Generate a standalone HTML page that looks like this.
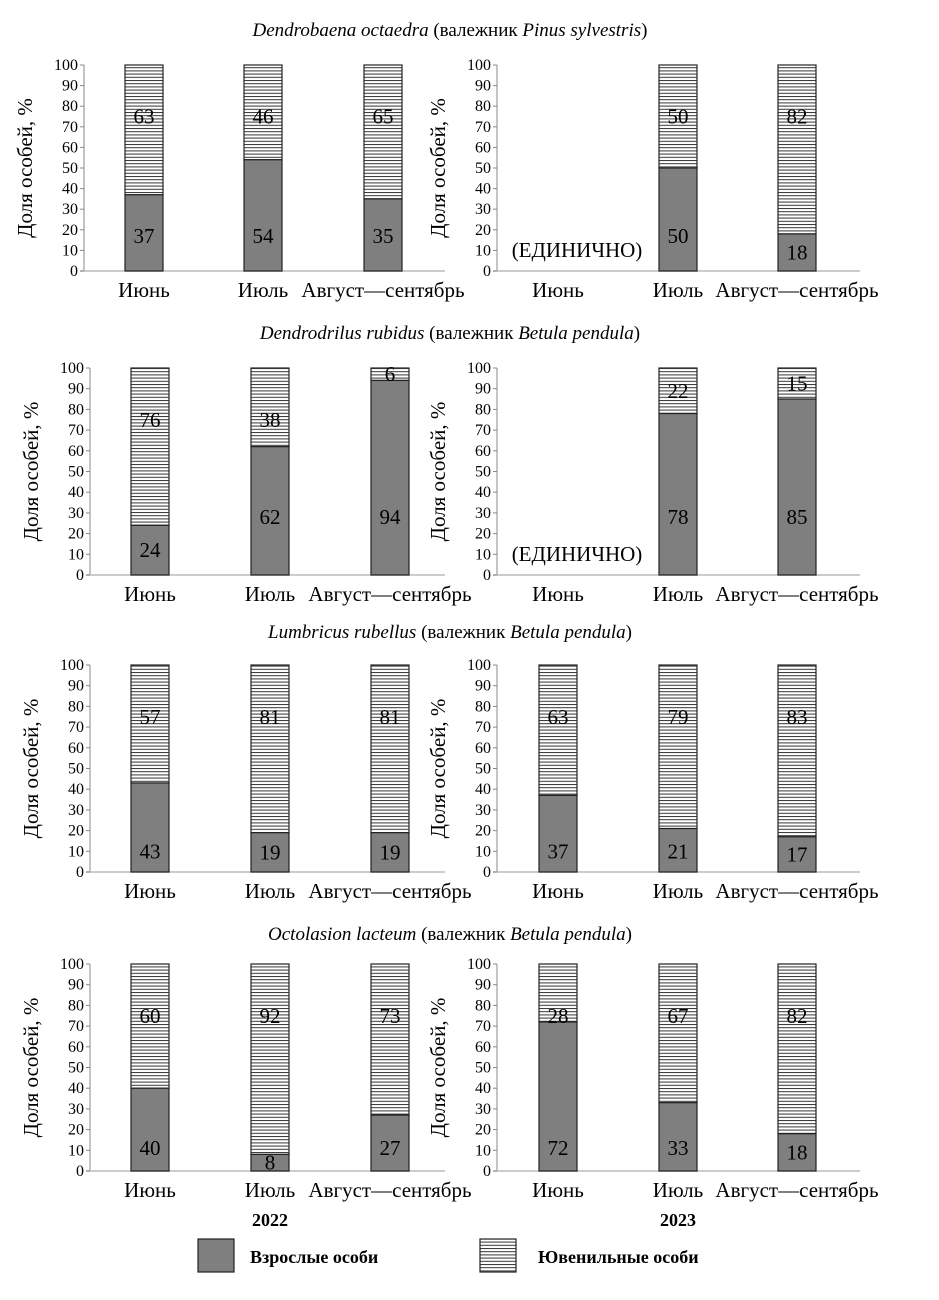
<!DOCTYPE html>
<html><head><meta charset="utf-8"><style>
body{margin:0;background:#fff}
svg{display:block;font-family:"Liberation Serif",serif}
</style></head><body>
<svg id="c" width="939" height="1300" viewBox="0 0 939 1300">
<defs><pattern id="hatch" width="6" height="3.2" patternUnits="userSpaceOnUse"><rect width="6" height="3.2" fill="#fff"/><rect y="0" width="6" height="1" fill="#333"/></pattern></defs>
</svg>
<script>
const categories=["Июнь","Июль","Август—сентябрь"];
const adult2022a=[37,54,35], adult2023a=[null,50,18];
const adult2022b=[24,62,94], adult2023b=[null,78,85];
const adult2022c=[43,19,19], adult2023c=[37,21,17];
const adult2022d=[40,8,27], adult2023d=[72,33,18];
const yTicks=[0,10,20,30,40,50,60,70,80,90,100];
const titles=[["Dendrobaena octaedra","Pinus sylvestris"],["Dendrodrilus rubidus","Betula pendula"],["Lumbricus rubellus","Betula pendula"],["Octolasion lacteum","Betula pendula"]];
const svg=document.getElementById('c');const NS="http://www.w3.org/2000/svg";
function mk(t,a,txt){const e=document.createElementNS(NS,t);for(const k in a)e.setAttribute(k,a[k]);if(txt!=null)e.textContent=txt;svg.appendChild(e);return e;}
const rows=[{top:65,bot:271,tY:30,cap:17},{top:368,bot:575,tY:333,cap:28},{top:665,bot:872,tY:632,cap:10},{top:964,bot:1171,tY:934,cap:11}];
const data=[[adult2022a,adult2023a],[adult2022b,adult2023b],[adult2022c,adult2023c],[adult2022d,adult2023d]];
rows.forEach((r,ri)=>{
  const t=mk('text',{x:450,y:r.tY+6,'text-anchor':'middle','font-size':19});
  
  
  t.innerHTML='<tspan font-style="italic">'+titles[ri][0]+'</tspan> (валежник <tspan font-style="italic">'+titles[ri][1]+'</tspan>)';
  [0,1].forEach(pi=>{
    const ax= pi===0 ? (ri===0?84:90) : 497;
    const centers= pi===0 ? (ri===0?[144,263,383]:[150,270,390]) : [558,678,797];
    const axEnd= pi===0?445:860;
    const y=v=>r.bot-(r.bot-r.top)*v/100;
    let e=mk('line',{x1:ax,y1:r.top,x2:ax,y2:r.bot,stroke:'#888','stroke-width':1});
    
    e=mk('line',{x1:ax-4,y1:r.bot,x2:axEnd,y2:r.bot,stroke:'#bbb','stroke-width':1.5});
    
    yTicks.forEach(v=>{
      mk('line',{x1:ax-4,y1:y(v),x2:ax,y2:y(v),stroke:'#888'});
      const tl=mk('text',{x:ax-6,y:y(v)+5,'text-anchor':'end','font-size':16},String(v));
      
    });
    const yt=mk('text',{transform:`translate(${ax-52},${(r.top+r.bot)/2}) rotate(-90)`,'text-anchor':'middle','font-size':21},'Доля особей, %');
    
    const vals=data[ri][pi];
    categories.forEach((c,ci)=>{
      const cl=mk('text',{x:centers[ci],y:r.bot+26,'text-anchor':'middle','font-size':21},c);
      
      const a=vals[ci];const cx=centers[ci];
      if(a==null){
        const u=mk('text',{x:577,y:r.bot-14,'text-anchor':'middle','font-size':21},'(ЕДИНИЧНО)');
        
        return;
      }
      const jb=mk('rect',{x:cx-19,y:y(100),width:38,height:y(a)-y(100),fill:'url(#hatch)',stroke:'#222','stroke-width':1.2});
      
      const ab=mk('rect',{x:cx-19,y:y(a),width:38,height:y(0)-y(a),fill:'#7f7f7f',stroke:'#222','stroke-width':1.2});
      
      const j=100-a;
      const jv = a<73 ? 75 : a+j/2;
      const jl=mk('text',{x:cx,y:y(jv)+7,'text-anchor':'middle','font-size':21},String(j));
      
      const al=mk('text',{x:cx,y:y(Math.min(Math.max(a/2,4),r.cap))+7,'text-anchor':'middle','font-size':21},String(a));
      
    });
  });
});
(function(){
let e=mk('text',{x:270,y:1226,'text-anchor':'middle','font-size':18,'font-weight':'bold'},'2022');

e=mk('text',{x:678,y:1226,'text-anchor':'middle','font-size':18,'font-weight':'bold'},'2023');

e=mk('rect',{x:198,y:1239,width:36,height:33,fill:'#7f7f7f',stroke:'#222','stroke-width':1.2});

e=mk('text',{x:250,y:1263,'font-size':18,'font-weight':'bold'},'Взрослые особи');

e=mk('rect',{x:480,y:1239,width:36,height:33,fill:'url(#hatch)',stroke:'#222','stroke-width':1.2});

e=mk('text',{x:538,y:1263,'font-size':18,'font-weight':'bold'},'Ювенильные особи');

})();
</script>
</body></html>
